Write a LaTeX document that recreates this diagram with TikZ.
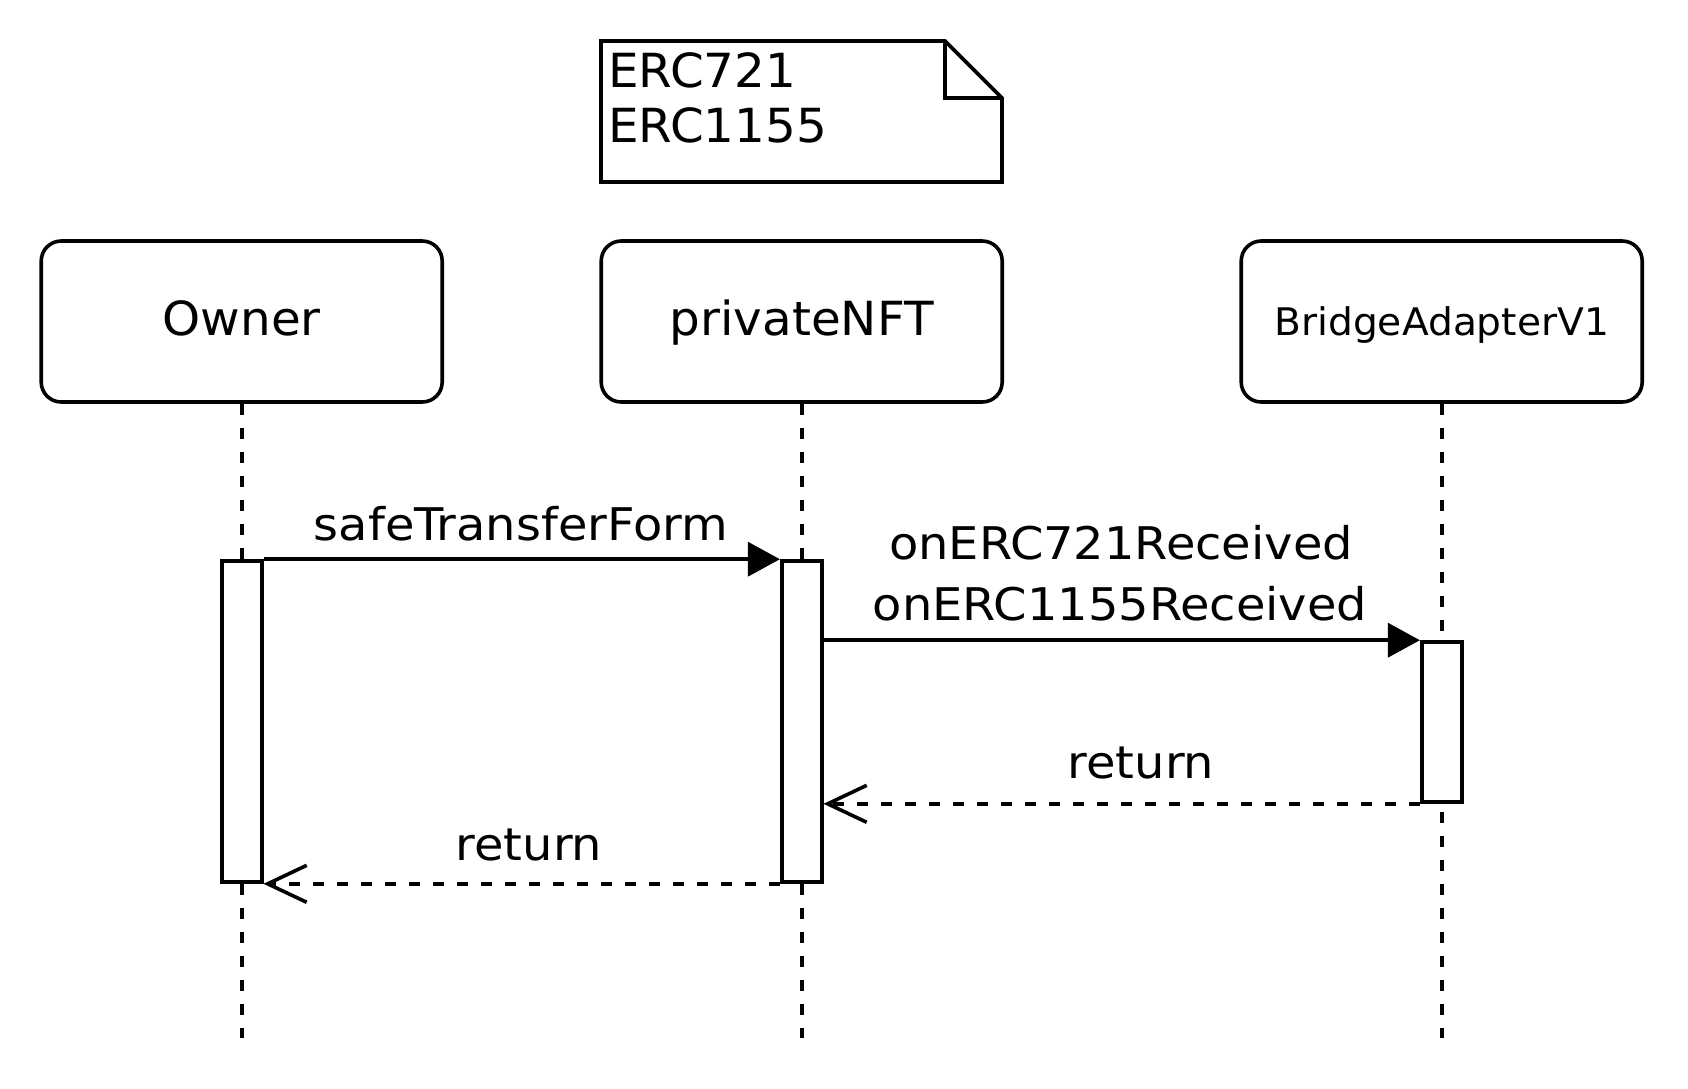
\documentclass[tikz,border=0pt]{standalone}
\usepackage{fontspec}
\setmainfont{DejaVu Sans}[FakeStretch=1.03]
\newfontfamily\lblfamily{DejaVu Sans}[FakeStretch=1.065]
\usetikzlibrary{arrows.meta}
\tikzset{
  lw/.style={line width=3.6pt},
  actor/.style={lw, draw, rounded corners=20pt, minimum width=401pt, minimum height=161pt, inner sep=0pt, text height=36pt, text depth=8pt, font=\fontsize{47}{55}\selectfont},
  actbox/.style={lw, draw, fill=white, minimum width=40pt, inner sep=0pt},
  lifeline/.style={lw, dash pattern=on 11pt off 13pt},
  msg/.style={lw, -{Triangle[length=32pt,width=34pt]}},
  ret/.style={lw, dash pattern=on 11pt off 13pt, -{Straight Barb[length=39pt,width=37pt,line width=3.6pt]}},
  lbl/.style={anchor=base, inner sep=0pt, font=\lblfamily\fontsize{45}{55}\selectfont},
}
\begin{document}
\begin{tikzpicture}[x=1pt,y=-1pt]
\useasboundingbox (0,0) rectangle (1688,1088);
% note
\draw[lw, line join=miter] (601,41) -- (945,41) -- (1002,98) -- (1002,182) -- (601,182) -- cycle;
\draw[lw, line join=miter] (945,41) -- (945,98) -- (1002,98);
\node[anchor=base west, inner sep=0pt, font=\fontsize{47}{55}\selectfont] (note1) at (608,87.7) {ERC721};
\node[anchor=base west, inner sep=0pt, font=\fontsize{47}{55}\selectfont] (note2) at (608,142.7) {ERC1155};
% actors
\node[actor] (owner) at (241.7,321.5) {Owner};
\node[actor] (pnft) at (801.7,321.5) {privateNFT};
\node[actor, font=\fontsize{38}{44}\selectfont] (bridge) at (1441.7,321.5) {BridgeAdapterV1};
% lifeline ends
\coordinate (ownerEnd) at (241.7,1038);
\coordinate (pnftEnd) at (801.7,1038);
\coordinate (bridgeEnd) at (1441.7,1038);
\draw[lifeline] (owner.south) -- (ownerEnd);
\draw[lifeline] (pnft.south) -- (pnftEnd);
\draw[lifeline] (bridge.south) -- (bridgeEnd);
% activations
\node[actbox, minimum height=321pt] (actO) at (241.7,721.5) {};
\node[actbox, minimum height=321pt] (actP) at (801.7,721.5) {};
\node[actbox, minimum height=160pt] (actB) at (1441.7,722) {};
% messages
\draw[msg] (actO.north east) -- (actP.north west);
\draw[msg] (actP.east |- actB.north) -- (actB.north west);
\draw[ret] (actB.south west) -- (actP.east |- actB.south);
\draw[ret] (actP.south west) -- (actO.south east);
% labels
\node[lbl] (l1) at (521,540) {safeTransferForm};
\node[lbl] (l2) at (1121,559) {onERC721Received};
\node[lbl] (l3) at (1120,620) {onERC1155Received};
\node[lbl] (l4) at (1141,778) {return};
\node[lbl] (l5) at (529,860) {return};
\end{tikzpicture}
\end{document}
